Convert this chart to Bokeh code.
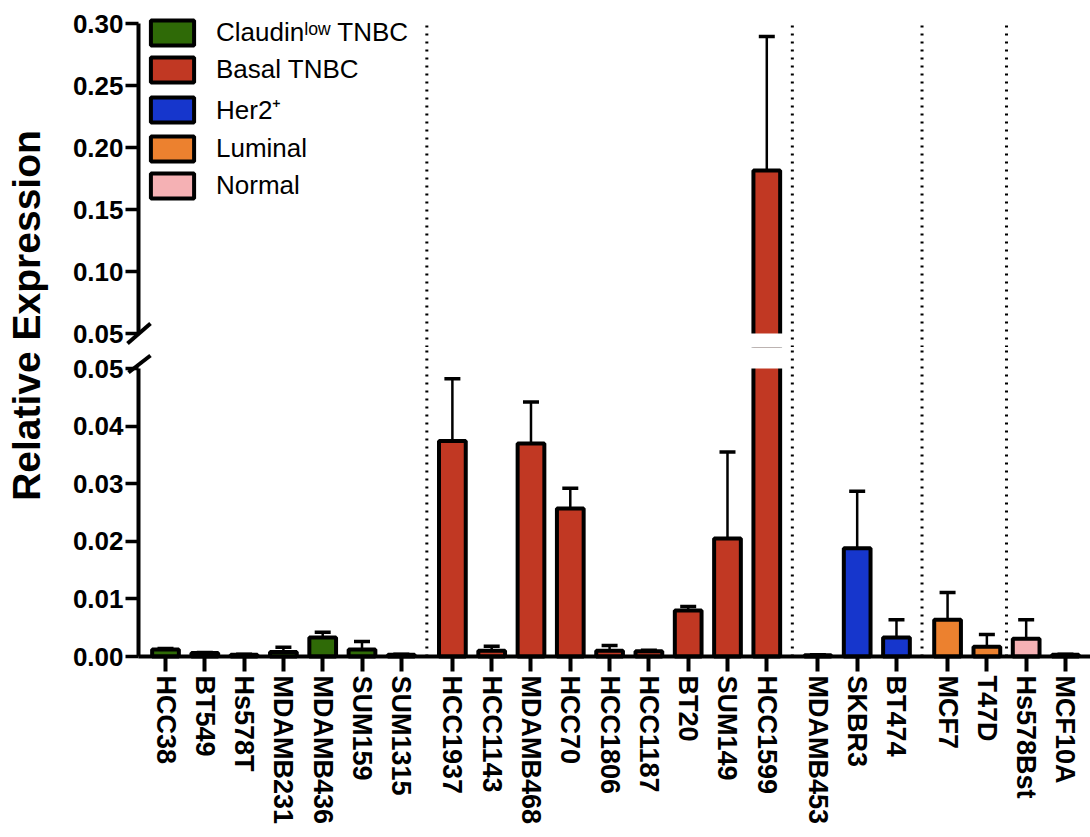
import math
from bokeh.plotting import figure
from bokeh.models import (Range1d, FixedTicker, Legend, LegendItem, Label, LinearAxis,
                          Arrow, ColumnDataSource, PrintfTickFormatter)
from bokeh.layouts import row, column
from bokeh.embed import file_html
from bokeh.resources import INLINE

# ---------------- data ----------------
cell_lines = ["HCC38", "BT549", "Hs578T", "MDAMB231", "MDAMB436", "SUM159", "SUM1315",
              "HCC1937", "HCC1143", "MDAMB468", "HCC70", "HCC1806", "HCC1187", "BT20",
              "SUM149", "HCC1599",
              "MDAMB453", "SKBR3", "BT474",
              "MCF7", "T47D",
              "Hs578Bst", "MCF10A"]
subtypes = ["Claudin"] * 7 + ["Basal"] * 9 + ["Her2"] * 3 + ["Luminal"] * 2 + ["Normal"] * 2
mean_expr = [0.0012, 0.0006, 0.0003, 0.0008, 0.0033, 0.0012, 0.0003,
             0.0374, 0.0010, 0.0370, 0.0257, 0.0010, 0.0009, 0.0080, 0.0205, 0.1815,
             0.0002, 0.0188, 0.0033,
             0.0064, 0.0017,
             0.0031, 0.0003]
sem_expr = [0.0002, 0.0001, 0.0001, 0.0008, 0.0009, 0.0014, 0.0001,
            0.0108, 0.0008, 0.0072, 0.0035, 0.0009, 0.0002, 0.0007, 0.0150, 0.1080,
            0.0001, 0.0099, 0.0031,
            0.0047, 0.0021,
            0.0033, 0.0001]
subtype_order = ["Claudin", "Basal", "Her2", "Luminal", "Normal"]
legend_labels = ["Claudin\u02e1\u1d52\u02b7 TNBC", "Basal TNBC", "Her2\u207a", "Luminal", "Normal"]
subtype_colors = ["#2f6a07", "#c13823", "#1636cc", "#ec812f", "#f5b1b4"]
top_ticks = [0.05, 0.10, 0.15, 0.20, 0.25, 0.30]
bottom_ticks = [0.00, 0.01, 0.02, 0.03, 0.04, 0.05]
y_label = "Relative Expression"

# ---------------- layout constants ----------------
FONT = "Liberation Sans"
GAP = 0.3
spaced_after = {"Claudin", "Basal", "Her2"}
BREAK_Y = 0.05
TOP_MAX = 0.30

STRIP_W = 58
MAIN_W = 1090 - STRIP_W
FRAME_W = MAIN_W
PX_X = 39.3                        # pixels per category slot
X_AXIS = -27 / PX_X                # data x of the y-axis line
X0 = X_AXIS - (138 - STRIP_W) / PX_X
X1 = X0 + FRAME_W / PX_X
MASK_L = X_AXIS + 3 / PX_X

TOP_BORDER = 13
TOP_UP = 10                        # frame extends above 0.30
TOP_SEG_H = 310                    # 0.05 .. 0.30
TOP_EXT = 14                       # frame extends below the break
BOT_EXT = 21                       # frame extends above the break
BOT_SEG_H = 288                    # 0.00 .. 0.05
BOT_DOWN = 15                      # frame extends below 0 (x ticks live here)
XAXIS_H = 163
top_ppy = TOP_SEG_H / (TOP_MAX - BREAK_Y)
bot_ppy = BOT_SEG_H / BREAK_Y
TOP_Y0 = BREAK_Y - TOP_EXT / top_ppy
TOP_Y1 = TOP_MAX + TOP_UP / top_ppy
BOT_Y0 = -BOT_DOWN / bot_ppy
BOT_Y1 = BREAK_Y + BOT_EXT / bot_ppy
TOP_H = TOP_BORDER + TOP_UP + TOP_SEG_H + TOP_EXT
BOT_H = BOT_EXT + BOT_SEG_H + BOT_DOWN + XAXIS_H

# positions (category slots with gaps between subtype blocks)
xs = []
pos = 0.0
for i, st in enumerate(subtypes):
    if i > 0 and subtypes[i - 1] != st and subtypes[i - 1] in spaced_after:
        pos += GAP
    xs.append(round(pos, 2))
    pos += 1.0
separators = [round((xs[i - 1] + xs[i]) / 2, 3) for i in range(1, len(xs)) if subtypes[i] != subtypes[i - 1]]
color_of = dict(zip(subtype_order, subtype_colors))
upper = [m + s for m, s in zip(mean_expr, sem_expr)]


def make_panel(y0, y1, ticks, bounds, height, border_top, border_bottom, is_top):
    p = figure(width=MAIN_W, height=height, x_range=Range1d(X0, X1), y_range=Range1d(y0, y1),
               output_backend="svg", toolbar_location=None,
               min_border_left=0, min_border_right=0,
               min_border_top=border_top, min_border_bottom=border_bottom,
               x_axis_location=None if is_top else "below")
    p.outline_line_color = None
    p.xgrid.visible = False
    p.ygrid.visible = False

    renderers = []
    for st in subtype_order:
        idx = [i for i, s in enumerate(subtypes) if s == st]
        src = ColumnDataSource(dict(x=[xs[i] for i in idx], top=[mean_expr[i] for i in idx]))
        r = p.vbar(x="x", top="top", bottom=0, width=0.68, source=src,
                   fill_color=color_of[st], line_color="black", line_width=4)
        renderers.append(r)

    esrc = ColumnDataSource(dict(x=xs, y0=mean_expr, y1=upper))
    p.segment(x0="x", y0="y0", x1="x", y1="y1", source=esrc, line_color="black", line_width=2.5)
    p.dash(x="x", y="y1", source=esrc, size=16, line_color="black", line_width=3.5)

    # white gap of the broken axis (masks everything on the far side of the break)
    if is_top:
        p.quad(left=MASK_L, right=X1 + 1, bottom=y0 - 1, top=BREAK_Y,
               fill_color="white", line_color=None)
        sep_lo, sep_hi = y0, TOP_MAX + 3 / top_ppy
    else:
        p.quad(left=MASK_L, right=X1 + 1, bottom=BREAK_Y, top=y1 + 1,
               fill_color="white", line_color=None)
        sep_lo, sep_hi = 0.0, y1

    ssrc = ColumnDataSource(dict(x=separators, lo=[sep_lo] * len(separators),
                                 hi=[sep_hi] * len(separators)))
    p.segment(x0="x", y0="lo", x1="x", y1="hi", source=ssrc, line_color="black",
              line_width=3, line_dash="2 6")

    ya = p.yaxis[0]
    ya.fixed_location = X_AXIS
    ya.bounds = bounds
    ya.ticker = FixedTicker(ticks=ticks)
    ya.formatter = PrintfTickFormatter(format="%.2f")
    ya.axis_line_width = 4
    ya.major_tick_line_width = 3.5
    ya.major_tick_out = 13
    ya.major_tick_in = 0
    ya.minor_tick_line_color = None
    ya.major_label_text_font = FONT
    ya.major_label_text_font_style = "bold"
    ya.major_label_text_font_size = "26px"
    ya.major_label_text_color = "black"
    ya.major_label_standoff = 2

    if not is_top:
        # labels + tick marks from the regular bottom axis (ticks reach up to y = 0)
        xa = p.xaxis[0]
        xa.ticker = FixedTicker(ticks=xs)
        xa.major_label_overrides = {x: n for x, n in zip(xs, cell_lines)}
        xa.major_label_orientation = "vertical"
        xa.axis_line_color = None
        xa.major_tick_line_width = 4
        xa.major_tick_out = 0
        xa.major_tick_in = BOT_DOWN
        xa.minor_tick_line_color = None
        xa.major_label_text_font = FONT
        xa.major_label_text_font_style = "bold"
        xa.major_label_text_font_size = "27px"
        xa.major_label_text_color = "black"
        xa.major_label_standoff = 4
        # the x-axis line itself, drawn at y = 0
        base = LinearAxis(fixed_location=0.0, bounds=(X_AXIS, X1), ticker=FixedTicker(ticks=[]),
                          axis_line_width=4, major_tick_line_color=None,
                          minor_tick_line_color=None)
        p.add_layout(base, "below")

    return p, renderers


top, top_renderers = make_panel(TOP_Y0, TOP_Y1, top_ticks, (BREAK_Y, TOP_MAX), TOP_H,
                                TOP_BORDER, 0, True)
bot, _ = make_panel(BOT_Y0, BOT_Y1, bottom_ticks, (0.0, BREAK_Y), BOT_H, 0, XAXIS_H, False)

# legend
legend = Legend(items=[LegendItem(label=l, renderers=[r]) for l, r in zip(legend_labels, top_renderers)],
                location=(150 - STRIP_W - 5, TOP_SEG_H + TOP_EXT - 178), orientation="vertical",
                glyph_width=54, glyph_height=31, label_height=31, spacing=6,
                label_standoff=17, padding=0, margin=0,
                label_text_font=FONT, label_text_font_size="26px", label_text_color="black",
                background_fill_alpha=0, border_line_color=None)
top.add_layout(legend)

# axis break marks
top.add_layout(Arrow(end=None, x_start=X_AXIS - 11 / PX_X, y_start=BREAK_Y - 10 / top_ppy,
                     x_end=X_AXIS + 12 / PX_X, y_end=BREAK_Y + 10 / top_ppy,
                     line_width=4, line_color="black"))
bot.add_layout(Arrow(end=None, x_start=X_AXIS - 10 / PX_X, y_start=BREAK_Y - 4 / bot_ppy,
                     x_end=X_AXIS + 12 / PX_X, y_end=BREAK_Y + 13 / bot_ppy,
                     line_width=4, line_color="black"))

# y-axis title in a narrow strip
TOTAL_H = TOP_H + BOT_H
lab = figure(width=STRIP_W, height=TOTAL_H, x_range=Range1d(0, 1), y_range=Range1d(0, 1),
             output_backend="svg", toolbar_location=None, min_border=0,
             x_axis_location=None, y_axis_location=None)
lab.outline_line_color = None
lab.grid.visible = False
lab.add_layout(Label(x=26 / STRIP_W, y=1 - 315 / TOTAL_H, text=y_label, angle=math.pi / 2,
                     text_align="center", text_baseline="middle", text_font=FONT,
                     text_font_style="bold", text_font_size="39px", text_color="black"))

layout = row(lab, column(top, bot))
open("out.html", "w").write(file_html(layout, INLINE))
